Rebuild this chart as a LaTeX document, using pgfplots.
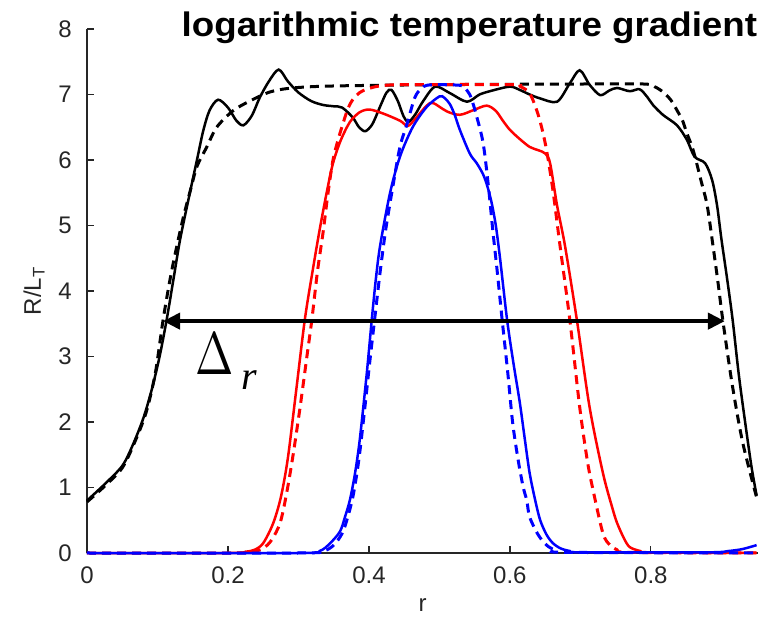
\documentclass[border=0pt]{standalone}
\usepackage{fontspec}
\setmainfont{Liberation Sans}
\newfontfamily\seriffont{Liberation Serif}
\newfontfamily\titlefont[FakeStretch=1.08]{Liberation Sans}
\usepackage{pgfplots}
\pgfplotsset{compat=1.18}
\usetikzlibrary{arrows.meta}

\begin{document}
\begin{tikzpicture}
\useasboundingbox (-87pt,-67pt) rectangle (676pt,553pt);
\begin{axis}[
  at={(0,0)}, anchor=south west,
  scale only axis, width=671pt, height=524pt,
  xmin=0, xmax=0.952, ymin=0, ymax=8,
  axis x line*=bottom, axis y line*=left,
  axis line style={-, line width=1.2pt, black!85},
  every outer x axis line/.append style={-},
  every outer y axis line/.append style={-},
  xtick={0,0.2,0.4,0.6,0.8}, ytick={0,1,2,3,4,5,6,7,8},
  tick align=inside, major tick length=7pt,
  tick style={line width=1.2pt, black!85},
  /pgf/number format/assume math mode=true,
  xticklabel style={font=\fontsize{24}{24}\selectfont, text=black!85, anchor=north, inner sep=0pt, yshift=-14pt},
  yticklabel style={font=\fontsize{24}{24}\selectfont, text=black!85, anchor=east, inner sep=0pt, xshift=-15pt},
  xlabel={r},
  xlabel style={font=\fontsize{24}{24}\selectfont, text=black!85, at={(axis description cs:0.5,-0.1126)}, anchor=base, inner sep=0pt},
  ylabel={R/L\textsubscript{T}},
  ylabel style={font=\fontsize{24}{24}\selectfont, text=black!85, at={(axis description cs:-0.063,0.5)}, anchor=south, inner sep=0pt},
  clip=false,
]
% black dashed
\addplot[black, line width=3pt, dash pattern=on 9pt off 6pt, smooth, tension=0.5] coordinates {
(0,0.78) (0.025,1.02) (0.05,1.3) (0.068,1.7) (0.084,2.15) (0.097,2.75) (0.108,3.56) (0.12,4.3) (0.135,5.05) (0.147,5.55) (0.156,5.9) (0.17,6.2) (0.184,6.5) (0.207,6.75) (0.231,6.9) (0.26,7.04) (0.292,7.1) (0.35,7.13) (0.5,7.15) (0.7,7.16) (0.79,7.16) (0.805,7.12) (0.817,7.04) (0.828,6.92) (0.837,6.76) (0.845,6.6) (0.851,6.41) (0.86,6.15) (0.872,5.65) (0.88,5.3) (0.888,4.7) (0.895,4.15) (0.902,3.56) (0.915,2.6) (0.93,1.7) (0.95,0.85)
};
% black solid
\addplot[black, line width=2.5pt, smooth, tension=0.5] coordinates {
(0,0.80) (0.025,1.05) (0.05,1.33) (0.065,1.65) (0.08,2.06) (0.092,2.5) (0.103,3.0) (0.113,3.56) (0.123,4.2) (0.132,4.78) (0.145,5.45) (0.156,6.0) (0.165,6.45) (0.174,6.76) (0.186,6.92) (0.2,6.8) (0.212,6.6) (0.222,6.53) (0.234,6.68) (0.245,6.95) (0.258,7.2) (0.272,7.38) (0.285,7.2) (0.3,7.03) (0.318,6.9) (0.335,6.84) (0.35,6.82) (0.362,6.8) (0.377,6.65) (0.386,6.5) (0.395,6.44) (0.405,6.55) (0.416,6.82) (0.425,7.03) (0.432,7.07) (0.441,6.9) (0.449,6.67) (0.456,6.58) (0.466,6.7) (0.477,6.9) (0.494,7.12) (0.515,7.02) (0.539,6.89) (0.557,7.0) (0.575,7.06) (0.6,7.12) (0.614,7.07) (0.628,7.0) (0.643,6.94) (0.667,6.89) (0.685,7.17) (0.699,7.37) (0.713,7.15) (0.728,6.99) (0.741,7.06) (0.752,7.1) (0.77,7.05) (0.784,7.08) (0.795,6.96) (0.803,6.84) (0.817,6.69) (0.837,6.53) (0.851,6.31) (0.862,6.05) (0.877,5.95) (0.887,5.69) (0.894,5.3) (0.9,4.8) (0.908,4.2) (0.916,3.56) (0.925,2.7) (0.935,1.9) (0.943,1.3) (0.95,0.88)
};
% red solid
\addplot[red, line width=2.5pt, smooth, tension=0.5] coordinates {
(0,0) (0.2,0) (0.225,0.02) (0.238,0.05) (0.25,0.15) (0.264,0.45) (0.275,0.85) (0.285,1.45) (0.297,2.5) (0.309,3.56) (0.32,4.3) (0.33,4.93) (0.34,5.5) (0.349,5.95) (0.36,6.3) (0.373,6.58) (0.387,6.73) (0.401,6.77) (0.42,6.71) (0.444,6.6) (0.455,6.52) (0.465,6.62) (0.482,6.83) (0.491,6.87) (0.511,6.74) (0.529,6.69) (0.548,6.76) (0.567,6.83) (0.58,6.75) (0.59,6.6) (0.6,6.46) (0.614,6.32) (0.628,6.2) (0.64,6.15) (0.65,6.1) (0.657,5.95) (0.667,5.3) (0.678,4.7) (0.695,3.56) (0.713,2.23) (0.732,1.22) (0.745,0.7) (0.752,0.46) (0.762,0.22) (0.77,0.09) (0.785,0.03) (0.8,0.01) (0.95,0)
};
% red dashed
\addplot[red, line width=3pt, dash pattern=on 9pt off 6pt, smooth, tension=0.5] coordinates {
(0,0) (0.21,0) (0.235,0.02) (0.25,0.07) (0.262,0.2) (0.274,0.46) (0.283,0.9) (0.292,1.47) (0.302,2.2) (0.312,3.0) (0.319,3.56) (0.327,4.3) (0.335,4.9) (0.342,5.5) (0.349,6.0) (0.356,6.3) (0.363,6.55) (0.37,6.78) (0.377,6.92) (0.387,7.03) (0.397,7.08) (0.415,7.13) (0.45,7.15) (0.6,7.15) (0.615,7.12) (0.628,7.02) (0.638,6.76) (0.645,6.5) (0.652,6.15) (0.661,5.54) (0.671,4.7) (0.685,3.56) (0.699,2.23) (0.71,1.4) (0.718,0.96) (0.732,0.3) (0.742,0.12) (0.752,0.05) (0.77,0.01) (0.95,0)
};
% blue solid
\addplot[blue, line width=2.5pt, smooth, tension=0.5] coordinates {
(0,0) (0.3,0) (0.33,0.03) (0.345,0.15) (0.359,0.33) (0.366,0.55) (0.373,0.81) (0.38,1.2) (0.387,1.73) (0.397,2.75) (0.404,3.56) (0.41,4.2) (0.416,4.7) (0.43,5.5) (0.444,6.05) (0.462,6.5) (0.482,6.81) (0.5,6.97) (0.507,6.95) (0.515,6.85) (0.522,6.68) (0.529,6.46) (0.543,6.1) (0.553,5.95) (0.562,5.78) (0.568,5.6) (0.574,5.35) (0.58,5.0) (0.586,4.5) (0.596,3.56) (0.605,2.9) (0.614,2.3) (0.621,1.75) (0.628,1.22) (0.636,0.8) (0.643,0.5) (0.652,0.28) (0.661,0.15) (0.672,0.07) (0.685,0.03) (0.7,0.01) (0.88,0.01) (0.91,0.03) (0.93,0.06) (0.95,0.12)
};
% blue dashed
\addplot[blue, line width=3pt, dash pattern=on 9pt off 6pt, smooth, tension=0.5] coordinates {
(0,0) (0.3,0) (0.335,0.03) (0.35,0.12) (0.362,0.3) (0.37,0.55) (0.378,0.9) (0.386,1.45) (0.394,2.2) (0.401,2.9) (0.408,3.56) (0.416,4.3) (0.424,4.95) (0.434,5.6) (0.444,6.2) (0.454,6.55) (0.465,6.95) (0.474,7.09) (0.482,7.14) (0.5,7.15) (0.529,7.14) (0.536,7.1) (0.543,7.0) (0.548,6.85) (0.553,6.66) (0.562,6.26) (0.569,5.65) (0.576,4.9) (0.582,4.3) (0.589,3.56) (0.597,2.75) (0.604,1.98) (0.612,1.4) (0.619,1.0) (0.624,0.8) (0.628,0.55) (0.64,0.28) (0.652,0.12) (0.665,0.04) (0.68,0.01) (0.95,0)
};
% double arrow Delta r
\addplot[black, line width=4.5pt, {Triangle[length=17pt,width=16pt]}-{Triangle[length=17pt,width=16pt]}] coordinates {(0.108,3.54) (0.905,3.54)};
\node[anchor=base west, inner sep=0pt] at (axis cs:0.153,2.72) {\scalebox{4.6}[6.0]{$\Delta$}\hspace{8pt}\raisebox{-15pt}{\seriffont\itshape\fontsize{40}{40}\selectfont r}};
\node[anchor=base east, inner sep=0pt, font=\titlefont\bfseries\fontsize{34}{34}\selectfont] at (axis cs:0.951,7.88) {logarithmic temperature gradient};
\end{axis}
\end{tikzpicture}
\end{document}
